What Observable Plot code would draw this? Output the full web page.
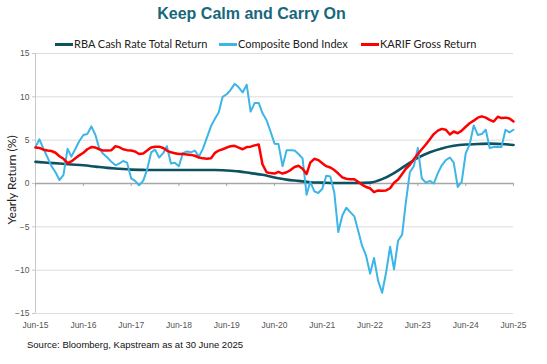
<!DOCTYPE html>
<html>
<head>
<meta charset="utf-8">
<script src="https://cdn.jsdelivr.net/npm/d3@7"></script>
<script src="https://cdn.jsdelivr.net/npm/@observablehq/plot@0.6"></script>
<style>
  body { margin: 0; background: #fff; }
  #wrap { position: relative; width: 547px; height: 364px; overflow: hidden; font-family: "Liberation Sans", Arial, sans-serif; }
  #title { position: absolute; left: 0; width: 503px; top: 5px; text-align: center; font-weight: bold; font-size: 16px; color: #17687b; }
  #legend { position: absolute; left: 55px; top: 37px; font-family: Lato, "Open Sans", sans-serif; font-size: 11px; color: #222; white-space: nowrap; }
  #legend span.item { position: absolute; top: 0; }
  #legend span.sw { display: inline-block; width: 18px; height: 3px; vertical-align: middle; margin-right: 1px; position: relative; top: -1px; }
  #ylab { position: absolute; left: 4px; top: 180px; transform-origin: 0 0; transform: rotate(-90deg) translate(-50%, 0); font-family: Lato, sans-serif; font-size: 12px; color: #222; white-space: nowrap; }
  #source { position: absolute; left: 27px; top: 339px; font-size: 9.5px; color: #111; }
  #chart { position: absolute; left: 0; top: 0; }
</style>
</head>
<body>
<div id="wrap">
  <div id="chart"></div>
  <div id="title">Keep Calm and Carry On</div>
  <div id="legend"></div>
  <div id="ylab">Yearly Return (%)</div>
  <div id="source">Source: Bloomberg, Kapstream as at 30 June 2025</div>
</div>
<script>
// Series names and colours
const seriesNames = ["RBA Cash Rate Total Return", "Composite Bond Index", "KARIF Gross Return"];
const seriesColors = ["#0d5261", "#3db5e6", "#ff0000"];

// Monthly values from Jun-15 to Jun-25 (121 months)
const compositeBond = [
  4.2, 5.1, 4.0, 3.0, 2.0, 1.3, 0.4, 1.0, 4.0, 3.1,
  4.0, 4.9, 5.6, 5.7, 6.6, 5.6, 4.0, 3.4, 3.0, 2.5,
  2.1, 2.3, 2.6, 2.4, 0.6, 0.3, -0.2, 0.3, 1.6, 3.6,
  3.9, 3.0, 3.5, 4.3, 2.3, 2.4, 2.0, 3.5, 3.7, 3.6,
  3.8, 3.1, 4.0, 5.3, 6.6, 7.4, 8.2, 10.0, 10.3, 10.8,
  11.5, 11.1, 10.5, 11.4, 8.3, 9.3, 9.3, 8.1, 7.3, 6.0,
  4.6, 4.55, 2.0, 3.85, 3.85, 3.8, 3.4, 2.9, -1.3, 0.2,
  -0.9, -1.1, -0.6, 0.9, 0.8, -1.1, -5.6, -3.7, -2.8, -3.3,
  -3.8, -5.4, -7.2, -8.3, -10.4, -8.6, -11.2, -12.6, -10.3, -7.3,
  -9.9, -6.6, -5.9, -2.2, 1.3, 2.0, 4.1, 0.6, 0.1, 0.3,
  0.0, 1.2, 2.1, 2.7, 3.0, 2.4, -0.4, 0.2, 3.5, 4.5,
  6.7, 5.6, 5.7, 6.2, 4.1, 4.2, 4.25, 4.2, 6.2, 5.9,
  6.2
];
const karifGross = [
  4.15, 4.1, 3.9, 3.8, 3.75, 3.55, 3.15, 2.85, 2.35, 2.55,
  2.9, 3.25, 3.55, 3.95, 4.2, 4.15, 3.95, 3.8, 3.8, 3.85,
  4.3, 4.2, 3.95, 3.85, 3.8, 3.7, 3.4, 3.45, 3.8, 4.15,
  4.25, 4.25, 4.1, 3.8, 3.6, 3.5, 3.4, 3.4, 3.35, 3.3,
  3.2, 3.0, 2.9, 2.85, 2.9, 3.5, 3.8, 3.95, 4.15, 4.3,
  4.35, 4.15, 3.95, 4.2, 4.25, 4.4, 4.5, 2.2, 1.3, 1.2,
  1.15, 1.35, 1.15, 1.3, 1.55, 1.9, 2.05, 1.7, 1.1, 2.4,
  2.85, 2.7, 2.35, 2.0, 1.85, 1.55, 1.15, 0.7, 0.55, 0.5,
  0.5, 0.2, -0.15, -0.4, -0.55, -1.0, -0.8, -0.85, -0.8, -0.55,
  0.1, 0.45, 1.1, 1.7, 2.15, 2.8, 3.4, 3.95, 4.5, 5.1,
  5.7, 6.1, 6.3, 6.2, 5.65, 6.0, 5.8, 6.1, 6.55, 6.95,
  7.25, 7.6, 7.75, 7.6, 7.35, 7.15, 7.7, 7.55, 7.6, 7.5,
  7.15
];
// Quarterly values (every 3 months) from Jun-15 to Jun-25
const rbaCashRate = [
  2.5, 2.4, 2.3, 2.2, 2.1, 1.95, 1.8, 1.7, 1.6, 1.57,
  1.55, 1.55, 1.55, 1.55, 1.55, 1.55, 1.5, 1.4, 1.2, 1.0,
  0.7, 0.45, 0.3, 0.15, 0.1, 0.05, 0.05, 0.05, 0.1, 0.5,
  1.2, 2.1, 2.95, 3.6, 4.05, 4.35, 4.5, 4.55, 4.6, 4.55,
  4.45
];
const yTicks = [15, 10, 5, 0, -5, -10, -15];
const xTickYears = [2015, 2016, 2017, 2018, 2019, 2020, 2021, 2022, 2023, 2024, 2025];

const monthDate = m => new Date(Date.UTC(2015, 5 + m, 1));
const rows = [];
rbaCashRate.forEach((v, i) => rows.push({series: seriesNames[0], date: monthDate(i * 3), value: v}));
compositeBond.forEach((v, i) => rows.push({series: seriesNames[1], date: monthDate(i), value: v}));
karifGross.forEach((v, i) => rows.push({series: seriesNames[2], date: monthDate(i), value: v}));
const xTicks = xTickYears.map(y => new Date(Date.UTC(y, 5, 1)));
const fmt = d => "Jun-" + String(d.getUTCFullYear()).slice(2);

const chart = Plot.plot({
  width: 547,
  height: 364,
  marginTop: 53,
  marginBottom: 51,
  marginLeft: 35,
  marginRight: 34,
  style: {fontFamily: "'Liberation Sans Narrow', 'Liberation Sans', Arial, sans-serif", fontSize: "8.5px", color: "#555", background: "transparent"},
  x: {type: "utc", domain: [xTicks[0], xTicks[xTicks.length - 1]]},
  y: {domain: [-15, 15]},
  color: {domain: seriesNames, range: seriesColors},
  marks: [
    Plot.ruleY(yTicks.filter(d => d !== 0), {stroke: "#dcdcdc", strokeWidth: 1}),
    Plot.ruleX([xTicks[0]], {y1: -15, y2: 15, stroke: "#c8c8c8", strokeWidth: 1}),
    Plot.ruleY([0], {stroke: "#a6a6a6", strokeWidth: 1.5}),
    Plot.ruleX(xTicks, {y1: 0, y2: -0.35, stroke: "#a6a6a6", strokeWidth: 1}),
    Plot.axisY({ticks: yTicks, tickSize: 3, tickPadding: 3, stroke: "#c8c8c8", label: null, fill: "#555"}),
    Plot.axisX({ticks: xTicks, tickFormat: fmt, tickSize: 0, tickPadding: 8, label: null, fill: "#555"}),
    Plot.line(rows.filter(d => d.series === seriesNames[0]), {x: "date", y: "value", stroke: "series", strokeWidth: 2.6, curve: "monotone-x"}),
    Plot.line(rows.filter(d => d.series === seriesNames[1]), {x: "date", y: "value", stroke: "series", strokeWidth: 2, strokeLinejoin: "round"}),
    Plot.line(rows.filter(d => d.series === seriesNames[2]), {x: "date", y: "value", stroke: "series", strokeWidth: 2.5, strokeLinejoin: "round"})
  ]
});
document.getElementById("chart").appendChild(chart);

// Legend
const legendPos = [0, 164, 306];
const leg = document.getElementById("legend");
seriesNames.forEach((name, i) => {
  const item = document.createElement("span");
  item.className = "item";
  item.style.left = legendPos[i] + "px";
  const sw = document.createElement("span");
  sw.className = "sw";
  sw.style.background = seriesColors[i];
  item.appendChild(sw);
  item.appendChild(document.createTextNode(name));
  leg.appendChild(item);
});
</script>
</body>
</html>
